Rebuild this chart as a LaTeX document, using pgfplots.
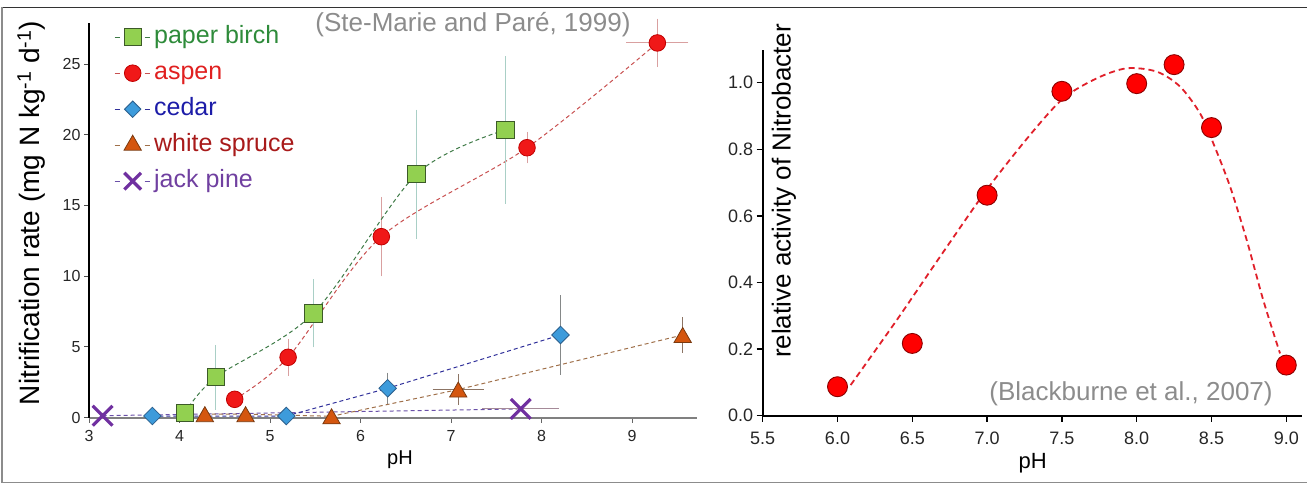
\documentclass[border=0pt]{standalone}
\usepackage{fontspec}
\setmainfont{Liberation Sans}
\usepackage{pgfplots}
\usepackage{pgfplotstable}
\pgfplotsset{compat=1.18}
\definecolor{birchfill}{HTML}{92D050}
\definecolor{birchedge}{HTML}{3C5A28}
\definecolor{birchline}{HTML}{3E7A46}
\definecolor{birchtext}{HTML}{2E8B3A}
\definecolor{bircherr}{HTML}{A9CFC6}
\definecolor{aspenfill}{HTML}{F01818}
\definecolor{aspenedge}{HTML}{C00000}
\definecolor{aspenline}{HTML}{C85050}
\definecolor{aspentext}{HTML}{E02020}
\definecolor{aspenerr}{HTML}{D9A0A0}
\definecolor{cedarfill}{HTML}{3D9BDB}
\definecolor{cedaredge}{HTML}{2A5E8C}
\definecolor{cedarline}{HTML}{30309A}
\definecolor{cedartext}{HTML}{1C1CA8}
\definecolor{cedarerr}{HTML}{858888}
\definecolor{sprucefill}{HTML}{D4560F}
\definecolor{spruceedge}{HTML}{7A3A10}
\definecolor{spruceline}{HTML}{A0704A}
\definecolor{sprucetext}{HTML}{A81A1A}
\definecolor{spruceerr}{HTML}{8C7464}
\definecolor{pinecol}{HTML}{7030A0}
\definecolor{pineline}{HTML}{6A50A8}
\definecolor{pinetext}{HTML}{7040A0}
\definecolor{pineerr}{HTML}{A58A98}
\definecolor{citegray}{HTML}{8C8C8C}
\definecolor{curvered}{HTML}{E0202A}
\definecolor{dotred}{HTML}{FF0000}
\definecolor{dotedge}{HTML}{8B0000}

\pgfplotstableread{
x y ex ey
4.06 0.35 0 0
4.40 2.86 0 2.08
5.48 7.38 0 2.2
6.62 17.23 0 4.35
7.60 20.35 0 5.0
}\birch
\pgfplotstableread{
x y ex ey
4.61 1.30 0 0
5.20 4.27 0 1.1
6.23 12.8 0 2.6
7.84 19.09 0 0.9
9.28 26.5 0.31 1.5
}\aspen
\pgfplotstableread{
x y ex ey
3.70 0.12 0 0
5.18 0.12 0 0
6.30 2.08 0 0.9
8.21 5.85 0 2.6
}\cedar
\pgfplotstableread{
x y ex ey
4.28 0.25 0 0
4.73 0.25 0 0
5.68 0.10 0 0
7.08 1.99 0.25 0.87
9.56 5.85 0 1.05
}\spruce
\pgfplotstableread{
x y ex ey
3.15 0.14 0 0
7.77 0.62 0.39 0
}\pine
\pgfplotstableread{
x y
6.0 0.087
6.5 0.217
7.0 0.662
7.5 0.974
8.0 0.997
8.25 1.054
8.5 0.865
9.0 0.152
}\nitro
\pgfplotstableread{
x y
6.088 0.092
6.396 0.287
6.685 0.477
6.997 0.678
7.287 0.843
7.51 0.953
7.733 1.013
7.933 1.043
8.134 1.033
8.29 0.988
8.423 0.908
8.512 0.818
8.624 0.688
8.735 0.528
8.846 0.347
8.958 0.187
}\fitcurve

\begin{document}
\begin{tikzpicture}[x=1pt,y=1pt]
\useasboundingbox (0,0) rectangle (1307,484);
\draw[line width=1.2pt, black!80] (2,476.7) -- (1307,476.7);
\draw[line width=1.2pt, black!45] (2,476.7) -- (2,1.5) -- (1307,1.5);

\begin{axis}[
  at={(89pt,66.3pt)}, anchor=south west,
  scale only axis, width=608pt, height=394.7pt,
  xmin=3, xmax=9.718, ymin=0, ymax=27.91,
  axis lines*=left, clip=false,
  x axis line style={draw=black!50, line width=2pt},
  y axis line style={draw=black, line width=1.3pt},
  xtick={3,4,5,6,7,8,9}, ytick={0,5,10,15,20,25},
  tick align=outside, major tick length=5pt,
  x tick style={draw=black!60, line width=1pt},
  y tick style={draw=black!70, line width=1pt},
  tick label style={font=\fontsize{16}{18}\selectfont, text=black!85},
  xticklabel shift=4pt,
  /pgf/number format/assume math mode=true,
  xlabel={pH},
  xlabel style={at={(axis description cs:0.5115,-0.107)}, anchor=center, font=\fontsize{20}{24}\selectfont},
  ylabel={Nitrification rate (mg N kg\textsuperscript{-1} d\textsuperscript{-1})},
  ylabel style={at={(axis description cs:-0.0946,0.5186)}, anchor=center, font=\fontsize{28}{32}\selectfont},
  legend style={at={(axis description cs:0,1)}, anchor=north west, xshift=25pt, yshift=4pt,
    draw=none, fill=none, inner sep=0pt, font=\fontsize{25}{30}\selectfont,
    nodes={text height=18pt, text depth=6pt, inner xsep=4pt, inner ysep=6pt}},
  legend cell align=left,
  legend image code/.code={
    \draw[#1,solid] (0pt,0pt) -- (5pt,0pt);
    \draw[#1,solid] (30pt,0pt) -- (35pt,0pt);
    \draw[#1] plot coordinates {(18pt,0pt)};
  },
]
% legend images
\addlegendimage{birchline, line width=1pt, mark=square*, mark size=8.7pt, mark options={solid, fill=birchfill, draw=birchedge, line width=1pt}}
\addlegendentry{\textcolor{birchtext}{paper birch}}
\addlegendimage{aspenline, line width=1pt, mark=*, mark size=8.3pt, mark options={solid, fill=aspenfill, draw=aspenedge, line width=0.8pt}}
\addlegendentry{\textcolor{aspentext}{aspen}}
\addlegendimage{cedarline, line width=1pt, mark=square*, mark size=5.8pt, mark options={solid, rotate=45, fill=cedarfill, draw=cedaredge, line width=0.8pt}}
\addlegendentry{\textcolor{cedartext}{cedar}}
\addlegendimage{spruceline, line width=1pt, mark=triangle*, mark size=10pt, mark options={solid, fill=sprucefill, draw=spruceedge, line width=0.8pt}}
\addlegendentry{\textcolor{sprucetext}{white spruce}}
\addlegendimage{pineline, line width=1pt, mark=x, mark size=11.8pt, mark options={solid, draw=pinecol, line width=3.2pt}}
\addlegendentry{\textcolor{pinetext}{jack pine}}

% jack pine
\addplot[forget plot, pineline, line width=1pt, dash pattern=on 4pt off 3pt,
  mark=x, mark size=14pt, mark options={solid, draw=pinecol, line width=3.2pt},
  error bars/.cd, x dir=both, x explicit,
  error bar style={pineerr, line width=1pt, solid}, error mark options={pineerr, mark size=3pt, line width=1pt, solid}]
  table[x=x, y=y, x error=ex] {\pine};
% white spruce
\addplot[forget plot, spruceline, line width=1pt, dash pattern=on 4pt off 3pt,
  mark=triangle*, mark size=10pt, mark options={solid, yshift=-2.5pt, fill=sprucefill, draw=spruceedge, line width=0.8pt},
  error bars/.cd, y dir=both, y explicit, x dir=both, x explicit,
  error bar style={spruceerr, line width=1pt, solid}, error mark options={spruceerr, mark size=3pt, line width=1pt, solid}]
  table[x=x, y=y, x error=ex, y error=ey] {\spruce};
% cedar
\addplot[forget plot, cedarline, line width=1pt, dash pattern=on 4pt off 3pt,
  mark=square*, mark size=6.2pt, mark options={solid, rotate=45, fill=cedarfill, draw=cedaredge, line width=0.8pt},
  error bars/.cd, y dir=both, y explicit,
  error bar style={cedarerr, line width=1pt, solid}, error mark options={cedarerr, mark size=3pt, line width=1pt, solid}]
  table[x=x, y=y, y error=ey] {\cedar};
% aspen
\addplot[forget plot, aspenline, line width=1pt, dash pattern=on 4pt off 3pt, smooth,
  mark=*, mark size=8.3pt, mark options={solid, fill=aspenfill, draw=aspenedge, line width=0.8pt},
  error bars/.cd, y dir=both, y explicit, x dir=both, x explicit,
  error bar style={aspenerr, line width=1pt, solid}, error mark options={aspenerr, mark size=3pt, line width=1pt, solid}]
  table[x=x, y=y, x error=ex, y error=ey] {\aspen};
% paper birch
\addplot[forget plot, birchline, line width=1pt, dash pattern=on 4pt off 3pt, smooth,
  mark=square*, mark size=8.7pt, mark options={solid, fill=birchfill, draw=birchedge, line width=1pt},
  error bars/.cd, y dir=both, y explicit,
  error bar style={bircherr, line width=1pt, solid}, error mark options={bircherr, mark size=3pt, line width=1pt, solid}]
  table[x=x, y=y, y error=ey] {\birch};
\end{axis}

\begin{axis}[
  at={(762.7pt,68.3pt)}, anchor=south west,
  scale only axis, width=539pt, height=365.7pt,
  xmin=5.5, xmax=9.103, ymin=0, ymax=1.098,
  axis lines*=left, clip=false,
  axis line style={line width=1.8pt, black},
  xtick={5.5,6,6.5,7,7.5,8,8.5,9}, ytick={0,0.2,0.4,0.6,0.8,1.0},
  tick align=outside, major tick length=6pt,
  tick style={black, line width=1.3pt},
  xticklabel style={/pgf/number format/.cd, fixed, fixed zerofill, precision=1},
  yticklabel style={/pgf/number format/.cd, fixed, fixed zerofill, precision=1},
  tick label style={font=\fontsize{18}{20}\selectfont, text=black!85},
  xticklabel shift=7pt,
  /pgf/number format/assume math mode=true,
  xlabel={pH},
  xlabel style={at={(axis description cs:0.501,-0.1293)}, anchor=center, font=\fontsize{22}{26}\selectfont},
  ylabel={relative activity of Nitrobacter},
  ylabel style={at={(axis description cs:0.0395,0.6144)}, anchor=center, font=\fontsize{26}{30}\selectfont},
]
\addplot[curvered, line width=1.8pt, dash pattern=on 6pt off 4pt, smooth, no marks] table[x=x,y=y] {\fitcurve};
\addplot[only marks, mark=*, mark size=10pt, mark options={fill=dotred, draw=dotedge, line width=0.9pt}] table[x=x,y=y] {\nitro};
\end{axis}

\node[text=citegray, font=\fontsize{26}{30}\selectfont] at (473,459) {(Ste-Marie and Paré, 1999)};
\node[text=citegray, font=\fontsize{26}{30}\selectfont] at (1131,90.7) {(Blackburne et al., 2007)};
\end{tikzpicture}
\end{document}
